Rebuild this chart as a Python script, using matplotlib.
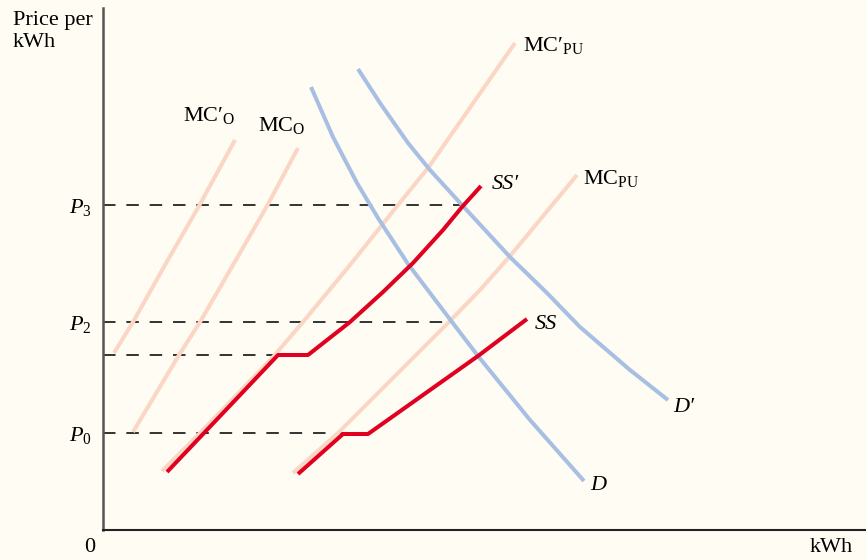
import matplotlib
matplotlib.use("Agg")
import matplotlib.pyplot as plt
from matplotlib.transforms import ScaledTranslation

# quantities (kWh) and prices
mc_o2_q = [11, 30, 62, 96, 132]
mc_o2_p = [177, 208, 265, 324, 390]
mc_o_q = [30, 76, 97, 130, 164, 195]
mc_o_p = [98, 175, 208, 265, 324, 382]
mc_pu2_q = [59, 97, 170, 200, 247, 295, 325, 412]
mc_pu2_p = [59, 97, 173, 208, 265, 325, 362, 487]
mc_pu_q = [190, 234, 290, 346, 377, 407, 474]
mc_pu_p = [57, 96, 152, 208, 240, 274, 355]
d_q = [208, 230, 254, 275, 305, 349, 375, 427, 481]
d_p = [443, 393, 347, 312, 266, 208, 174, 110, 49]
d2_q = [255, 277, 305, 327, 359, 407, 444, 477, 527, 565]
d2_p = [461, 427, 387, 360, 325, 273, 237, 203, 160, 130]
ss2_q = [64, 175, 205, 247, 280, 310, 340, 359, 378]
ss2_p = [58, 175, 175, 208, 238, 267, 300, 323, 344]
ss_q = [195, 240, 265, 320, 375, 424]
ss_p = [56, 96, 96, 135, 174, 211]

price_ticks = [97, 208, 325]
price_labels = ["$P_0$", "$P_2$", "$P_3$"]
# dashed guides: (price, quantity where it stops)
guides = [(325, 359), (208, 347), (175, 175), (97, 240)]

BG = "#fffcf3"
SALMON = "#fbd6c4"
BLUE = "#a8bfe4"
RED = "#e0001f"


def Main():
    plt.rcParams["font.family"] = "Liberation Serif"
    plt.rcParams["mathtext.fontset"] = "custom"
    plt.rcParams["mathtext.rm"] = "Liberation Serif"
    plt.rcParams["mathtext.it"] = "Liberation Serif:italic"

    fig = plt.figure(figsize=(8.66, 5.60), dpi=100, facecolor=BG)
    ax = fig.add_axes([103 / 866, 30 / 560, 763 / 866, 522 / 560])
    ax.set_facecolor(BG)
    ax.set_xlim(0, 763)
    ax.set_ylim(0, 522)

    for p, q in guides:
        ax.plot([0, q], [p, p], color="#111111", lw=1.2, dashes=(7.5, 6.5), zorder=1)

    for q, p in [(mc_o2_q, mc_o2_p), (mc_o_q, mc_o_p), (mc_pu2_q, mc_pu2_p), (mc_pu_q, mc_pu_p)]:
        ax.plot(q, p, color=SALMON, lw=2.9, solid_capstyle="butt", zorder=2)
    for q, p in [(d_q, d_p), (d2_q, d2_p)]:
        ax.plot(q, p, color=BLUE, lw=2.9, solid_capstyle="butt", zorder=3)
    for q, p in [(ss2_q, ss2_p), (ss_q, ss_p)]:
        ax.plot(q, p, color=RED, lw=2.9, solid_capstyle="butt", solid_joinstyle="round", zorder=4)

    fs = 16
    ax.text(mc_o2_q[-1] - 52, mc_o2_p[-1] + 19, "MC\u2032$_{\\mathrm{O}}$", fontsize=fs)
    ax.text(mc_o_q[-1] - 40, mc_o_p[-1] + 17, "MC$_{\\mathrm{O}}$", fontsize=fs)
    ax.text(mc_pu2_q[-1] + 8, mc_pu2_p[-1] - 8, "MC\u2032$_{\\mathrm{PU}}$", fontsize=fs)
    ax.text(mc_pu_q[-1] + 6, mc_pu_p[-1] - 9, "MC$_{\\mathrm{PU}}$", fontsize=fs)
    ax.text(ss2_q[-1] + 11, ss2_p[-1] - 3, "SS\u2032", fontsize=fs, style="italic")
    ax.text(ss_q[-1] + 8, ss_p[-1] - 10, "SS", fontsize=fs, style="italic")
    ax.text(d2_q[-1] + 5, d2_p[-1] - 12, "D\u2032", fontsize=fs, style="italic")
    ax.text(d_q[-1] + 6, d_p[-1] - 9, "D", fontsize=fs, style="italic")

    ax.set_yticks(price_ticks)
    ax.set_yticklabels(price_labels, fontsize=fs)
    ax.tick_params(axis="y", length=0, pad=8)
    ax.set_xticks([])

    ax.text(0, 0, "0", fontsize=fs, ha="right", va="top",
            transform=ax.transData + ScaledTranslation(-0.08, -0.08, fig.dpi_scale_trans))
    ax.text(0.982, 0, "kWh", fontsize=fs, ha="right", va="top",
            transform=ax.transAxes + ScaledTranslation(0, -0.08, fig.dpi_scale_trans))
    ax.text(-0.118, 0.995, "Price per\nkWh", fontsize=fs, ha="left", va="top",
            transform=ax.transAxes, linespacing=1.25)

    for s in ["top", "right"]:
        ax.spines[s].set_visible(False)
    ax.spines["left"].set_color("#555555")
    ax.spines["left"].set_linewidth(1.8)
    ax.spines["bottom"].set_color("#222222")
    ax.spines["bottom"].set_linewidth(1.5)

    plt.savefig("out.png", dpi=100, facecolor=BG)


if __name__ == '__main__':
    Main()
